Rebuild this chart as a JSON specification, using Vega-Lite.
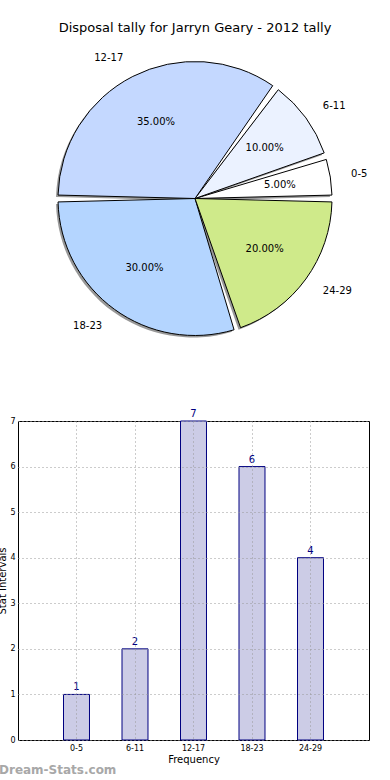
{
  "$schema": "https://vega.github.io/schema/vega-lite/v6.json",
  "autosize": {"type": "pad"},
  "padding": {"top": 22, "left": -3, "right": 0, "bottom": 0},
  "background": "white",
  "config": {"font": "DejaVu Sans", "view": {"stroke": null}},
  "datasets": {
    "tally": [
      {"group": "0-5", "from": 0, "count": 1},
      {"group": "6-11", "from": 6, "count": 2},
      {"group": "12-17", "from": 12, "count": 7},
      {"group": "18-23", "from": 18, "count": 6},
      {"group": "24-29", "from": 24, "count": 4}
    ]
  },
  "spacing": 67,
  "bounds": "flush",
  "vconcat": [
    {
      "width": 354,
      "height": 311,
      "title": {"text": "Disposal tally for Jarryn Geary - 2012 tally", "fontSize": 13, "fontWeight": "normal", "offset": 8, "color": "black"},
      "data": {"name": "tally"},
      "transform": [
        {"joinaggregate": [{"op": "sum", "field": "count", "as": "total"}]},
        {"calculate": "datum.count / datum.total", "as": "share"}
      ],
      "encoding": {
        "theta": {"field": "count", "type": "quantitative", "stack": true, "scale": {"range": [1.5708, -4.7124]}},
        "order": {"field": "from", "type": "quantitative", "sort": "ascending"},
        "detail": {"field": "group", "type": "nominal"}
      },
      "layer": [
        {"mark": {"type": "arc", "outerRadius": 137, "padAngle": 0.05, "fill": "#444444", "opacity": 0.55, "xOffset": -2, "yOffset": 2}},
        {
          "mark": {"type": "arc", "outerRadius": 137, "padAngle": 0.05, "stroke": "black", "strokeWidth": 1},
          "encoding": {
            "color": {
              "field": "group", "type": "nominal",
              "scale": {"domain": ["0-5", "6-11", "12-17", "18-23", "24-29"], "range": ["#ffffff", "#ebf2ff", "#c4d8ff", "#b4d5ff", "#cfea8a"]},
              "legend": null
            }
          }
        },
        {"mark": {"type": "text", "radius": 86, "fontSize": 10, "color": "black"}, "encoding": {"text": {"field": "share", "type": "quantitative", "format": ".2%"}}},
        {"mark": {"type": "text", "radius": 158, "fontSize": 10, "color": "black", "align": {"expr": "datum.from >= 12 && datum.from <= 18 ? 'right' : 'left'"}}, "encoding": {"text": {"field": "group", "type": "nominal"}}}
      ]
    },
    {
      "width": 351,
      "height": 319,
      "data": {"name": "tally"},
      "view": {"stroke": "black", "strokeWidth": 1},
      "title": {"text": "Dream-Stats.com", "orient": "bottom", "anchor": "start", "frame": "group", "dx": -19, "offset": 1, "fontSize": 12, "fontWeight": "bold", "color": "#a8a8a8"},
      "encoding": {
        "x": {
          "field": "group", "type": "nominal",
          "sort": ["0-5", "6-11", "12-17", "18-23", "24-29"],
          "scale": {"paddingInner": 0.556, "paddingOuter": 0.778},
          "axis": {"title": "Frequency", "titleFontSize": 10, "titleFontWeight": "normal", "titleColor": "black", "labelFontSize": 8, "labelColor": "black", "labelAngle": 0, "labelPadding": 4, "titlePadding": 2, "grid": true, "gridDash": [1, 3], "gridColor": "#999999", "gridOpacity": 1, "ticks": false, "domain": false, "zindex": 1}
        },
        "y": {
          "field": "count", "type": "quantitative",
          "scale": {"domain": [0, 7], "nice": false},
          "axis": {"title": "Stat Intervals", "titleFontSize": 10, "titleFontWeight": "normal", "titleColor": "black", "labelFontSize": 8, "labelColor": "black", "values": [0, 1, 2, 3, 4, 5, 6, 7], "labelPadding": 3, "titlePadding": 2, "grid": true, "gridDash": [1, 3], "gridColor": "#999999", "gridOpacity": 1, "ticks": false, "domain": false, "zindex": 1}
        }
      },
      "layer": [
        {"mark": {"type": "bar", "fill": "#cccce6", "stroke": "#000080", "strokeWidth": 1}},
        {"mark": {"type": "text", "dy": -7, "fontSize": 10, "color": "#000080"}, "encoding": {"text": {"field": "count", "type": "quantitative"}}}
      ]
    }
  ]
}
